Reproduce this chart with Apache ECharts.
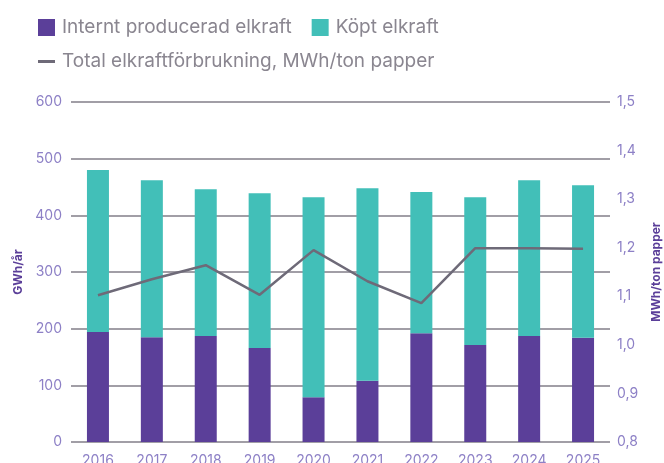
<!DOCTYPE html>
<html>
<head>
<meta charset="utf-8">
<script src="https://cdn.jsdelivr.net/npm/echarts@6/dist/echarts.min.js"></script>
<style>
html,body{margin:0;padding:0;background:#fff;}
#c{width:664px;height:463px;}
</style>
</head>
<body>
<div id="c"></div>
<script>
var years = ['2016','2017','2018','2019','2020','2021','2022','2023','2024','2025'];
var internt = [194, 185, 187, 166, 79, 108, 192, 171, 187, 184];
var total = [480, 462, 446, 439, 432, 448, 441, 432, 462, 453];
var kopt = total.map(function(t, i){ return t - internt[i]; });
var mwhPerTon = [1.102, 1.135, 1.164, 1.103, 1.195, 1.131, 1.086, 1.199, 1.199, 1.198];
var names = ['Internt producerad elkraft', 'Köpt elkraft', 'Total elkraftförbrukning, MWh/ton papper'];

var FONT = 'Inter';
var labelColor = '#8d80c6';
var chart = echarts.init(document.getElementById('c'));
chart.setOption({
  animation: false,
  textStyle: {fontFamily: FONT},
  grid: {left: 71, right: 54, top: 102, bottom: 21, containLabel: false, outerBoundsMode: 'none'},
  legend: [{
    data: [names[0], names[1]],
    left: 33, top: 13,
    icon: 'rect', itemWidth: 17, itemHeight: 17, itemGap: 20,
    textStyle: {fontFamily: FONT, fontSize: 19, color: '#8a8690', padding: [0,0,0,2]}
  }, {
    data: [names[2]],
    left: 33, top: 47,
    icon: 'rect', itemWidth: 17, itemHeight: 3,
    textStyle: {fontFamily: FONT, fontSize: 19, color: '#8a8690', padding: [0,0,0,2]}
  }],
  xAxis: {
    type: 'category', data: years,
    axisLine: {show: false}, axisTick: {show: false},
    axisLabel: {color: labelColor, fontSize: 14, margin: 12}
  },
  yAxis: [{
    type: 'value', min: 0, max: 600, interval: 100,
    name: 'GWh/år', nameLocation: 'middle', nameGap: 47, nameRotate: 90,
    nameTextStyle: {color: '#5b3f99', fontWeight: 'bold', fontSize: 12, fontFamily: FONT},
    axisLine: {show: false}, axisTick: {show: false},
    axisLabel: {color: labelColor, fontSize: 14, margin: 9},
    splitLine: {lineStyle: {color: '#a19ea6', width: 2}}
  }, {
    type: 'value', min: 0.8, max: 1.5, interval: 0.1,
    name: 'MWh/ton papper', nameLocation: 'middle', nameGap: 40, nameRotate: 90,
    nameTextStyle: {color: '#5b3f99', fontWeight: 'bold', fontSize: 12, fontFamily: FONT},
    axisLine: {show: false}, axisTick: {show: false},
    axisLabel: {color: labelColor, fontSize: 14, margin: 7,
      formatter: function(v){ return v.toFixed(1).replace('.', ','); }},
    splitLine: {show: false}
  }],
  series: [{
    name: names[0], type: 'bar', stack: 'a', data: internt,
    barWidth: 22, itemStyle: {color: '#5b3f99'}, z: 2
  }, {
    name: names[1], type: 'bar', stack: 'a', data: kopt,
    barWidth: 22, itemStyle: {color: '#42bfb8'}, z: 2
  }, {
    name: names[2], type: 'line', yAxisIndex: 1, data: mwhPerTon,
    showSymbol: false, symbol: 'none',
    lineStyle: {color: '#6e6a78', width: 2.5}, itemStyle: {color: '#6e6a78'}, z: 3
  }]
});
</script>
</body>
</html>
